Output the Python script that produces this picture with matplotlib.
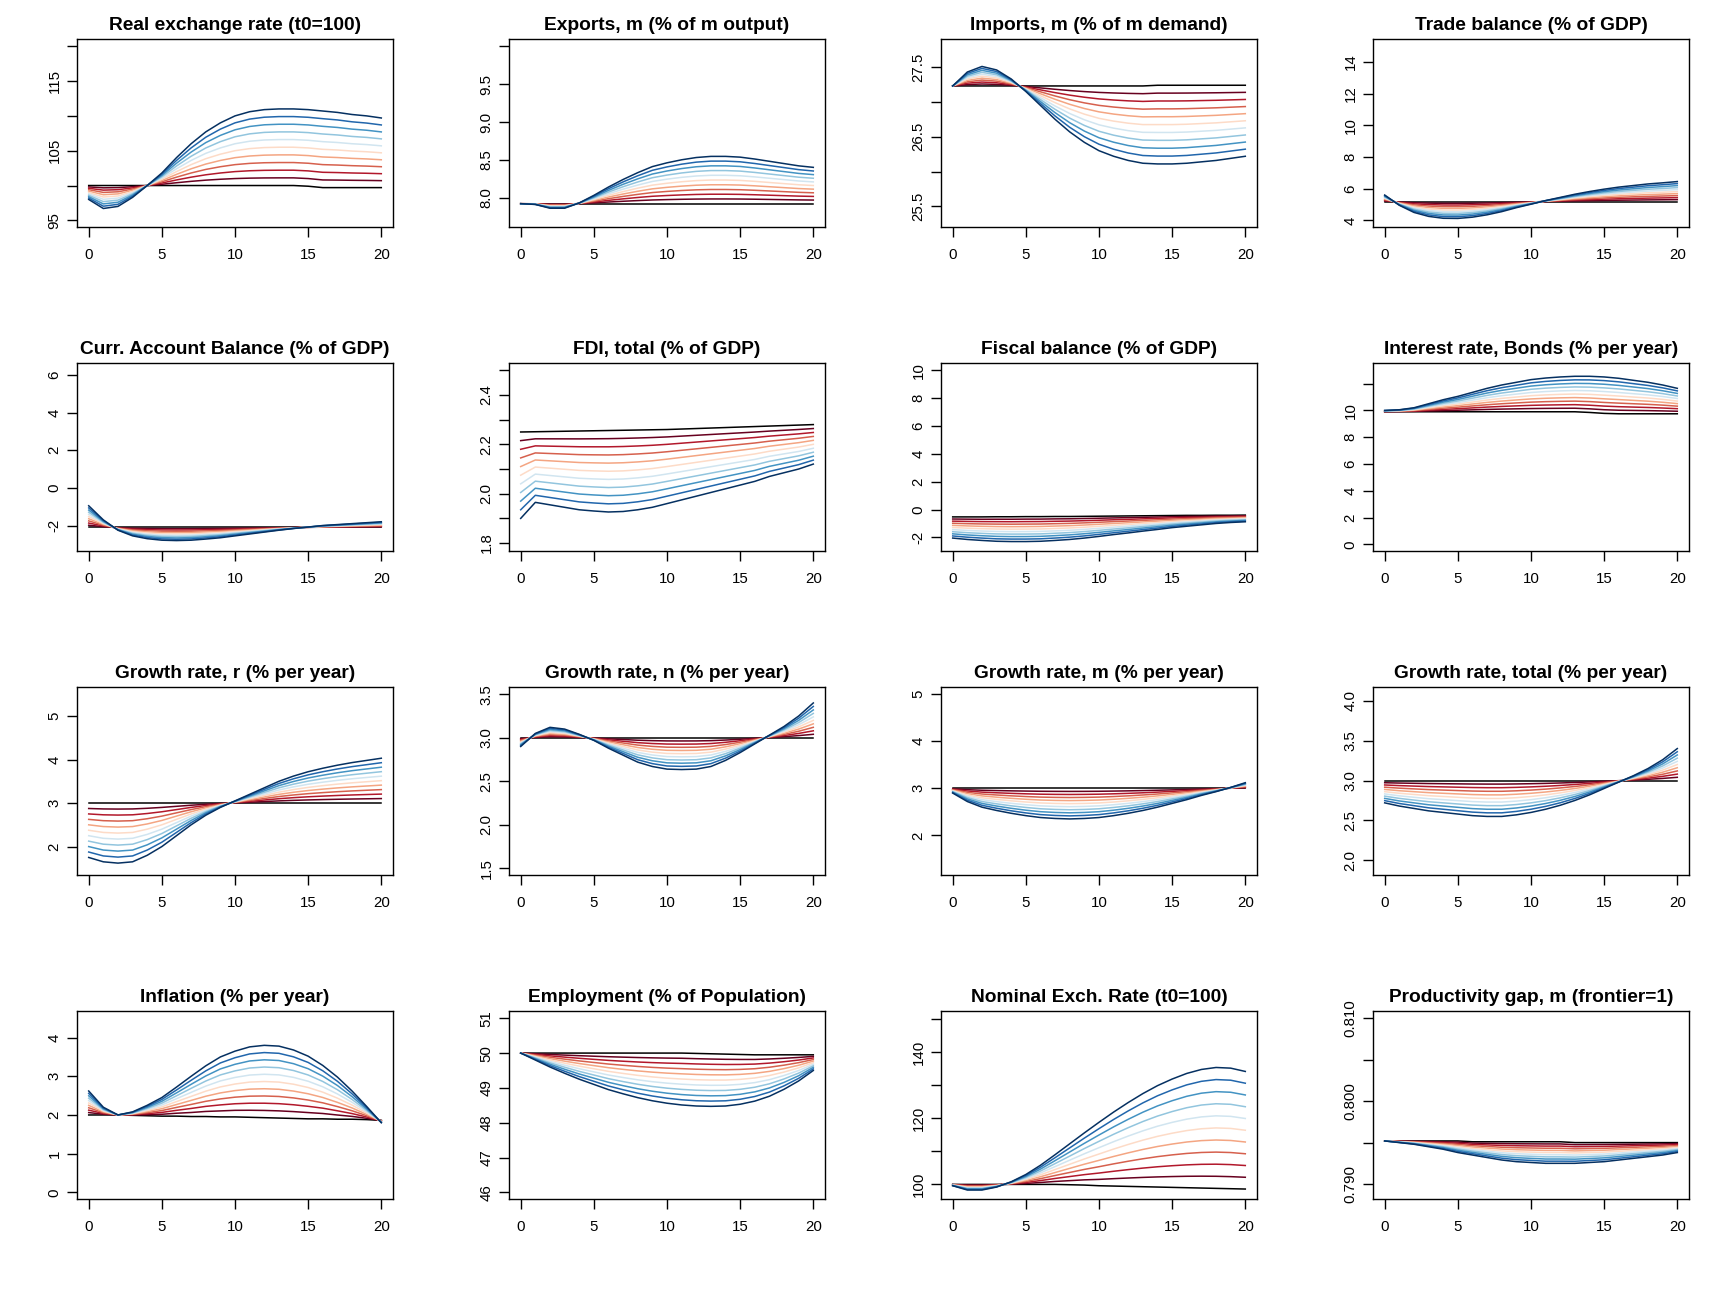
import matplotlib
matplotlib.use('Agg')
import matplotlib.pyplot as plt

plt.rcParams['font.family'] = ['Liberation Sans', 'DejaVu Sans']
plt.rcParams['axes.unicode_minus'] = False

years = list(range(21))

# scenario colours: baseline black, then shock sizes from small (red) to large (blue)
shock_colors = ['#67001F', '#B2182B', '#D6604D', '#F4A582', '#FDDBC7',
                '#D1E5F0', '#92C5DE', '#4393C3', '#2166AC', '#053061']
shock_size = [0.1, 0.2, 0.3, 0.4, 0.5, 0.6, 0.7, 0.8, 0.9, 1.0]

titles = ['Real exchange rate (t0=100)', 'Exports, m (% of m output)',
          'Imports, m (% of m demand)', 'Trade balance (% of GDP)',
          'Curr. Account Balance (% of GDP)', 'FDI, total (% of GDP)',
          'Fiscal balance (% of GDP)', 'Interest rate, Bonds (% per year)',
          'Growth rate, r (% per year)', 'Growth rate, n (% per year)',
          'Growth rate, m (% per year)', 'Growth rate, total (% per year)',
          'Inflation (% per year)', 'Employment (% of Population)',
          'Nominal Exch. Rate (t0=100)', 'Productivity gap, m (frontier=1)']

# baseline (black) and largest-shock (dark blue) paths, years 0..20
base_rer = [100, 100, 100, 100, 100, 100, 100, 100, 100, 100, 100, 100, 100, 100, 100, 99.9, 99.7, 99.7, 99.7, 99.7, 99.7]
full_rer = [98.0, 96.7, 97.0, 98.3, 100.0, 101.8, 104.0, 106.0, 107.7, 109.0, 110.0, 110.6, 110.9, 111.0, 111.0, 110.9, 110.7, 110.5, 110.2, 110.0, 109.7]

base_exp = [7.92] * 21
full_exp = [7.92, 7.91, 7.86, 7.86, 7.93, 8.03, 8.14, 8.24, 8.33, 8.41, 8.46, 8.50, 8.53, 8.545, 8.545, 8.535, 8.51, 8.48, 8.45, 8.42, 8.40]

base_imp = [27.23, 27.23, 27.23, 27.23, 27.23, 27.23, 27.23, 27.23, 27.23, 27.23, 27.23, 27.23, 27.23, 27.23, 27.24, 27.24, 27.24, 27.24, 27.24, 27.24, 27.24]
full_imp = [27.23, 27.43, 27.51, 27.46, 27.33, 27.15, 26.95, 26.75, 26.57, 26.42, 26.30, 26.22, 26.16, 26.12, 26.11, 26.11, 26.12, 26.14, 26.16, 26.19, 26.22]

base_tb = [5.18] * 21
full_tb = [5.6, 4.95, 4.5, 4.25, 4.13, 4.12, 4.2, 4.35, 4.55, 4.8, 5.02, 5.25, 5.45, 5.65, 5.82, 5.97, 6.1, 6.2, 6.3, 6.37, 6.45]

base_ca = [-2.1] * 21
full_ca = [-0.95, -1.7, -2.25, -2.55, -2.7, -2.78, -2.8, -2.78, -2.72, -2.65, -2.55, -2.45, -2.35, -2.25, -2.16, -2.08, -2.0, -1.95, -1.9, -1.85, -1.8]

base_fdi = [2.25, 2.251, 2.252, 2.253, 2.254, 2.255, 2.256, 2.257, 2.258, 2.259, 2.26, 2.262, 2.264, 2.266, 2.268, 2.27, 2.272, 2.274, 2.276, 2.278, 2.28]
full_fdi = [1.90, 1.965, 1.955, 1.945, 1.935, 1.93, 1.926, 1.928, 1.935, 1.945, 1.96, 1.975, 1.99, 2.005, 2.02, 2.035, 2.05, 2.07, 2.085, 2.10, 2.12]

base_fis = [-0.53, -0.53, -0.53, -0.52, -0.52, -0.51, -0.51, -0.5, -0.5, -0.49, -0.48, -0.47, -0.46, -0.45, -0.44, -0.43, -0.42, -0.42, -0.41, -0.41, -0.4]
full_fis = [-2.05, -2.15, -2.22, -2.28, -2.3, -2.3, -2.28, -2.22, -2.15, -2.05, -1.93, -1.8, -1.68, -1.55, -1.43, -1.3, -1.2, -1.1, -1.0, -0.93, -0.88]

base_int = [9.9, 9.9, 9.9, 9.9, 9.9, 9.9, 9.9, 9.9, 9.9, 9.9, 9.9, 9.9, 9.9, 9.9, 9.85, 9.78, 9.75, 9.75, 9.75, 9.75, 9.75]
full_int = [10.0, 10.05, 10.2, 10.5, 10.8, 11.05, 11.35, 11.65, 11.9, 12.1, 12.3, 12.42, 12.5, 12.55, 12.55, 12.5, 12.4, 12.25, 12.1, 11.9, 11.65]

base_gr = [3.0] * 21
full_gr = [1.75, 1.65, 1.62, 1.65, 1.8, 2.0, 2.25, 2.5, 2.72, 2.9, 3.05, 3.2, 3.35, 3.5, 3.62, 3.72, 3.8, 3.87, 3.93, 3.98, 4.03]

base_gn = [3.0] * 21
full_gn = [2.9, 3.05, 3.12, 3.1, 3.04, 2.97, 2.88, 2.8, 2.72, 2.67, 2.64, 2.635, 2.64, 2.67, 2.74, 2.83, 2.93, 3.03, 3.13, 3.25, 3.4]

base_gm = [3.0] * 21
full_gm = [2.9, 2.72, 2.6, 2.53, 2.47, 2.42, 2.38, 2.36, 2.35, 2.36, 2.38, 2.42, 2.47, 2.53, 2.6, 2.68, 2.76, 2.85, 2.93, 3.02, 3.12]

base_gt = [3.0] * 21
full_gt = [2.72, 2.68, 2.65, 2.62, 2.6, 2.58, 2.56, 2.55, 2.55, 2.57, 2.6, 2.64, 2.69, 2.75, 2.82, 2.9, 2.98, 3.06, 3.15, 3.26, 3.4]

base_inf = [2.0, 2.0, 2.0, 1.99, 1.98, 1.97, 1.97, 1.96, 1.96, 1.95, 1.95, 1.94, 1.93, 1.92, 1.91, 1.9, 1.9, 1.89, 1.89, 1.88, 1.86]
full_inf = [2.62, 2.2, 2.0, 2.08, 2.25, 2.45, 2.72, 3.0, 3.27, 3.5, 3.65, 3.76, 3.8, 3.78, 3.68, 3.52, 3.28, 2.98, 2.62, 2.22, 1.8]

base_emp = [50.0, 50.0, 50.0, 50.0, 50.0, 50.0, 50.0, 50.0, 50.0, 50.0, 50.0, 50.0, 49.99, 49.98, 49.97, 49.96, 49.95, 49.95, 49.95, 49.95, 49.95]
full_emp = [50.0, 49.8, 49.6, 49.42, 49.25, 49.1, 48.95, 48.83, 48.72, 48.63, 48.56, 48.51, 48.48, 48.47, 48.48, 48.53, 48.62, 48.76, 48.96, 49.2, 49.5]

base_ner = [100, 100, 100, 100, 100, 100, 100, 100, 99.9, 99.8, 99.6, 99.5, 99.4, 99.3, 99.2, 99.1, 99.0, 98.9, 98.8, 98.7, 98.6]
full_ner = [99.6, 98.3, 98.3, 99.2, 100.8, 103.0, 105.8, 109.0, 112.3, 115.6, 118.8, 121.9, 124.8, 127.5, 129.9, 131.9, 133.6, 134.8, 135.4, 135.2, 134.2]

base_pg = [0.7952, 0.7952, 0.7952, 0.7952, 0.7952, 0.7952, 0.7951, 0.7951, 0.7951, 0.7951, 0.7951, 0.7951, 0.7951, 0.795, 0.795, 0.795, 0.795, 0.795, 0.795, 0.795, 0.795]
full_pg = [0.7952, 0.795, 0.7948, 0.7945, 0.7942, 0.7938, 0.7935, 0.7932, 0.7929, 0.7927, 0.7926, 0.7925, 0.7925, 0.7925, 0.7926, 0.7927, 0.7929, 0.7931, 0.7933, 0.7935, 0.7938]

bases = [base_rer, base_exp, base_imp, base_tb, base_ca, base_fdi, base_fis, base_int,
         base_gr, base_gn, base_gm, base_gt, base_inf, base_emp, base_ner, base_pg]
fulls = [full_rer, full_exp, full_imp, full_tb, full_ca, full_fdi, full_fis, full_int,
         full_gr, full_gn, full_gm, full_gt, full_inf, full_emp, full_ner, full_pg]

# y limits (before R's 4% padding)
ylims = [(95, 120), (7.7, 10.0), (25.3, 27.8), (4.0, 15.0),
         (-3.0, 6.25), (1.795, 2.5), (-2.5, 10.0), (0, 13),
         (1.5, 5.5), (1.5, 3.5), (1.3, 5.0), (1.9, 4.08),
         (0, 4.5), (46, 51), (97.6, 150.3), (0.789, 0.81)]

# y ticks and which of them carry a label
yticks = [[95, 100, 105, 110, 115, 120], [8.0, 8.5, 9.0, 9.5, 10.0],
          [25.5, 26.0, 26.5, 27.0, 27.5], [4, 6, 8, 10, 12, 14],
          [-2, 0, 2, 4, 6], [1.8, 1.9, 2.0, 2.1, 2.2, 2.3, 2.4, 2.5],
          [-2, 0, 2, 4, 6, 8, 10], [0, 2, 4, 6, 8, 10, 12],
          [2, 3, 4, 5], [1.5, 2.0, 2.5, 3.0, 3.5], [2, 3, 4, 5],
          [2.0, 2.5, 3.0, 3.5, 4.0], [0, 1, 2, 3, 4], [46, 47, 48, 49, 50, 51],
          [100, 110, 120, 130, 140, 150], [0.790, 0.795, 0.800, 0.805, 0.810]]
ylabels = [['95', '', '105', '', '115', ''], ['8.0', '8.5', '9.0', '9.5', ''],
           ['25.5', '', '26.5', '', '27.5'], ['4', '6', '8', '10', '12', '14'],
           ['-2', '0', '2', '4', '6'], ['1.8', '', '2.0', '', '2.2', '', '2.4', ''],
           ['-2', '0', '2', '4', '6', '8', '10'], ['0', '2', '4', '6', '8', '10', ''],
           ['2', '3', '4', '5'], ['1.5', '2.0', '2.5', '3.0', '3.5'], ['2', '3', '4', '5'],
           ['2.0', '2.5', '3.0', '3.5', '4.0'], ['0', '1', '2', '3', '4'],
           ['46', '47', '48', '49', '50', '51'],
           ['100', '', '120', '', '140', ''], ['0.790', '', '0.800', '', '0.810']]

fig = plt.figure(figsize=(17.28, 12.96), dpi=100)

for i in range(16):
    r, c = divmod(i, 4)
    ax = fig.add_axes([(c * 432 + 77) / 1728, 1 - (r * 324 + 227.3) / 1296,
                       316 / 1728, 188 / 1296])
    base = bases[i]
    full = fulls[i]
    ax.plot(years, base, color='black', lw=1.1)
    for w, col in zip(shock_size, shock_colors):
        line = [b + w * (f - b) for b, f in zip(base, full)]
        ax.plot(years, line, color=col, lw=1.1)

    lo, hi = ylims[i]
    pad = (hi - lo) * 0.04
    ax.set_ylim(lo - pad, hi + pad)
    ax.set_xlim(-0.8, 20.8)
    ax.set_xticks([0, 5, 10, 15, 20])
    ax.set_xticklabels(['0', '5', '10', '15', '20'])
    ax.set_yticks(yticks[i])
    ax.set_yticklabels(ylabels[i])
    plt.setp(ax.get_yticklabels(), rotation=90, va='center')
    ax.tick_params(axis='both', length=7, width=1.0, labelsize=10.8, direction='out')
    ax.tick_params(axis='x', pad=8)
    ax.tick_params(axis='y', pad=4)
    for s in ax.spines.values():
        s.set_linewidth(1.0)
    ax.set_title(titles[i], fontsize=13.8, fontweight='bold', pad=7)

fig.savefig('out.png', dpi=100, facecolor='white')
